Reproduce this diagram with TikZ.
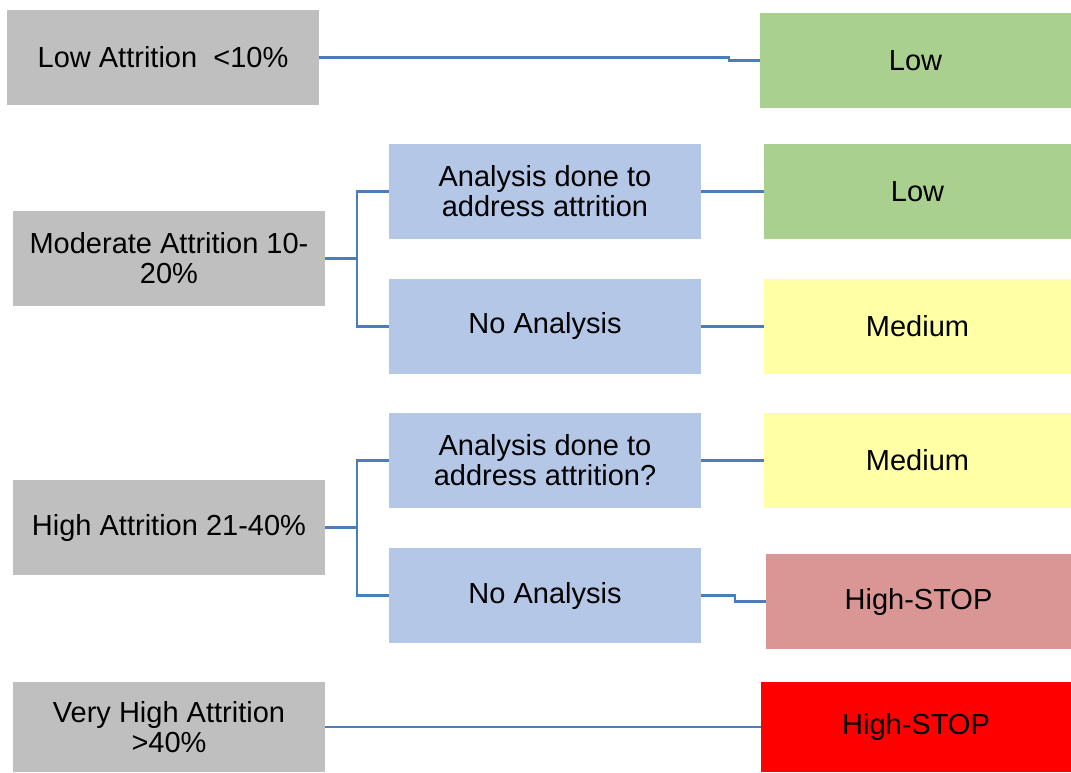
\documentclass[tikz,border=0pt]{standalone}
\usepackage{fontspec}
\setmainfont{Liberation Sans}
\definecolor{boxgrey}{RGB}{191,191,191}
\definecolor{boxgreen}{RGB}{169,208,142}
\definecolor{boxblue}{RGB}{180,199,231}
\definecolor{boxyellow}{RGB}{255,255,166}
\definecolor{boxpink}{RGB}{218,150,148}
\definecolor{boxred}{RGB}{255,0,0}
\definecolor{linkblue}{RGB}{74,126,187}
\begin{document}
\begin{tikzpicture}[x=1pt,y=-1pt,
 box/.style={minimum width=312pt,minimum height=95pt,inner sep=0pt,align=center,
  font=\fontsize{29}{30}\selectfont},
 link/.style={linkblue,line width=2.4pt}]
\useasboundingbox (0,0) rectangle (1071,773);
% left column
\node[box,fill=boxgrey] (lowin) at (163,57.5) {Low Attrition~ <10\%};
\node[box,fill=boxgrey] (modin) at (169,258.5) {Moderate Attrition 10-\\20\%};
\node[box,fill=boxgrey] (highin) at (169,527.5) {High Attrition 21-40\%};
\node[box,fill=boxgrey,minimum height=90pt] (vhighin) at (169,727) {Very High Attrition\\>40\%};
% middle column
\node[box,fill=boxblue] (ana1) at (545,191.5) {Analysis done to\\address attrition};
\node[box,fill=boxblue] (noana1) at (545,326.5) {No Analysis};
\node[box,fill=boxblue] (ana2) at (545,460.5) {Analysis done to\\address attrition?};
\node[box,fill=boxblue] (noana2) at (545,595.5) {No Analysis};
% right column
\node[box,fill=boxgreen,minimum width=311pt] (lowout) at (915.5,60.5) {Low};
\node[box,fill=boxgreen,minimum width=307pt] (lowout2) at (917.5,191.5) {Low};
\node[box,fill=boxyellow,minimum width=307pt] (medout) at (917.5,326.5) {Medium};
\node[box,fill=boxyellow,minimum width=307pt] (medout2) at (917.5,460.5) {Medium};
\node[box,fill=boxpink,minimum width=305pt] (stopout) at (918.5,601.5) {High-STOP};
\node[box,fill=boxred,minimum width=310pt,minimum height=90pt] (stopout2) at (916,727) {High-STOP};
% connectors
\coordinate (k1) at (729,0);
\coordinate (k2) at (357,258.5);
\coordinate (k3) at (357,527.5);
\coordinate (k4) at (735,0);
\draw[link] (lowin.east) -| (k1 |- lowout.west) -- (lowout.west);
\draw[link] (modin.east) -- (k2);
\draw[link] (ana1.west) -| (k2) |- (noana1.west);
\draw[link] (ana1.east) -- (lowout2.west);
\draw[link] (noana1.east) -- (medout.west);
\draw[link] (highin.east) -- (k3);
\draw[link] (ana2.west) -| (k3) |- (noana2.west);
\draw[link] (ana2.east) -- (medout2.west);
\draw[link] (noana2.east) -| (k4 |- stopout.west) -- (stopout.west);
\draw[link] (vhighin.east) -- (stopout2.west);
\end{tikzpicture}
\end{document}
